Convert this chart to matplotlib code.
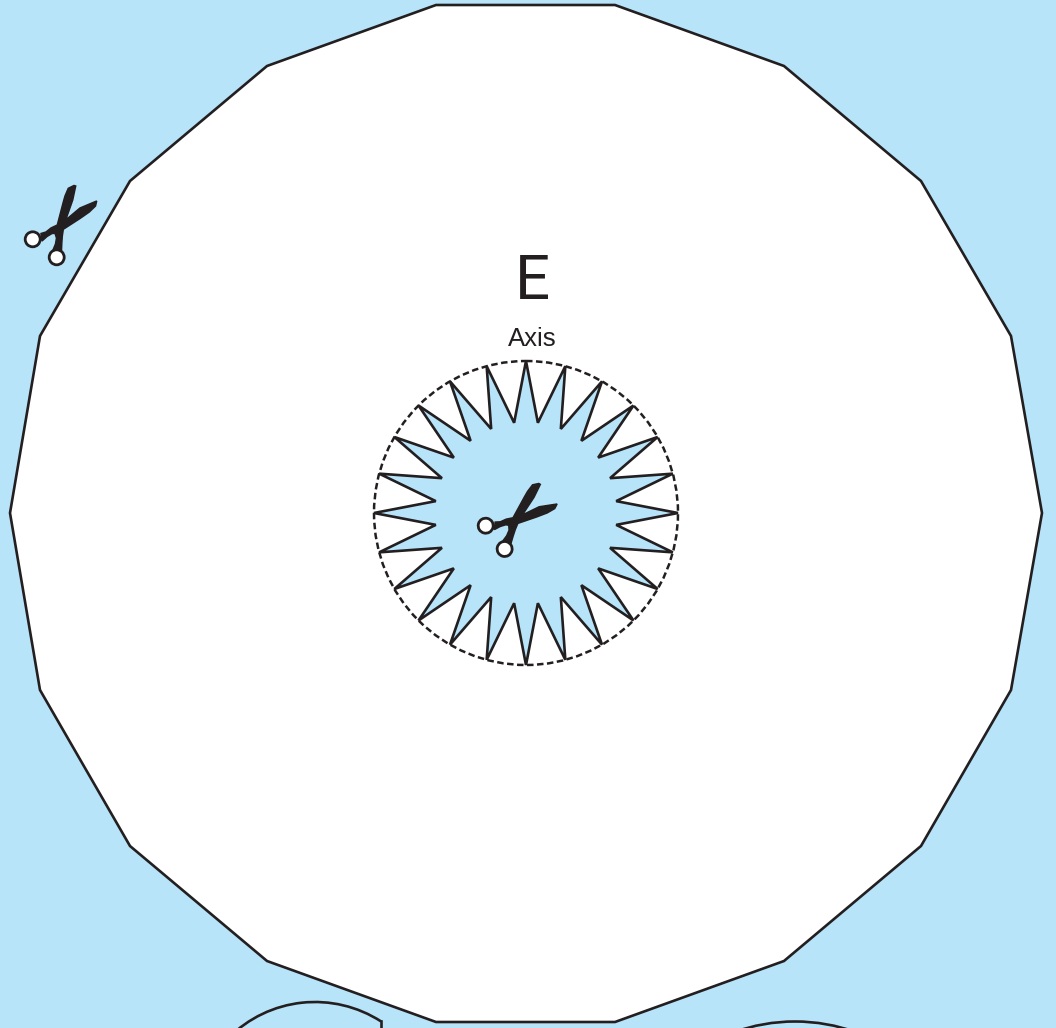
import numpy as np
import matplotlib
matplotlib.use("Agg")
import matplotlib.pyplot as plt
from matplotlib.patches import Polygon, Circle, Arc
from matplotlib.transforms import Affine2D

### VALUES (pixels) ###

blue = "#B8E4FA"
ink = "#231F20"

outer_x = [436, 615, 784, 921, 1011, 1042, 1011, 921, 784, 615, 436, 267, 130, 40, 10, 40, 130, 267]
outer_y = [5, 5, 66, 181, 336, 513, 690, 846, 961, 1022, 1022, 961, 846, 690, 513, 336, 181, 66]

center = (526, 513)
n_spikes = 24
tip_radius = 152
notch_radius = 91

# scissors outline, as seen in the top left one
scissors_x = [74.0, 68.3, 65.0, 63.3, 57.3, 51.0, 46.0, 41.0, 42.0, 47.0, 52.0, 55.0, 56.5, 55.5, 53.0, 61.5, 61.8, 62.3, 63.3, 80.0, 89.3, 95.5, 96.7, 80.0, 65.7, 72.7, 75.7]
scissors_y = [185.5, 188.3, 196.0, 202.0, 225.0, 228.0, 232.0, 233.5, 241.0, 236.5, 233.5, 233.3, 238.0, 244.0, 250.0, 250.0, 243.0, 236.0, 229.3, 218.5, 212.0, 206.0, 201.0, 208.0, 220.0, 200.0, 186.0]
ring_a = (32.7, 239.3)
ring_b = (56.7, 257.3)
second_scissors_turn = 14
second_scissors_ring = (485.7, 525.7)

left_arc_center = (315, 1124)
left_arc_radius = 122
left_arc_angles = (225, 302.8)
left_edge_x = [381, 381]
left_edge_y = [1021, 1030]
right_arc_center = (795, 1201.5)
right_arc_radius = 180

#### FIGURE ####

fig = plt.figure(figsize=(10.56, 10.28), dpi=100, facecolor=blue)
ax = fig.add_axes([0, 0, 1, 1])
ax.set_xlim(0, 1056)
ax.set_ylim(1028, 0)
ax.axis("off")

ax.add_patch(Polygon(np.column_stack([outer_x, outer_y]), closed=True, facecolor="white",
                     edgecolor=ink, linewidth=1.9, joinstyle="miter"))

# cut off shapes along the bottom
ax.add_patch(Arc(left_arc_center, 2 * left_arc_radius, 2 * left_arc_radius,
                 theta1=left_arc_angles[0], theta2=left_arc_angles[1], color=ink, linewidth=1.9))
ax.plot(left_edge_x, left_edge_y, color=ink, linewidth=1.9)
ax.add_patch(Arc(right_arc_center, 2 * right_arc_radius, 2 * right_arc_radius,
                 theta1=250, theta2=290, color=ink, linewidth=1.9))

#### STAR ####

ax.add_patch(Circle(center, tip_radius, facecolor="white", edgecolor=ink, linewidth=1.8,
                    linestyle=(0, (2.6, 1.4)), zorder=2))

angles = np.deg2rad(np.arange(2 * n_spikes) * 360 / (2 * n_spikes))
radii = np.where(np.arange(2 * n_spikes) % 2 == 0, tip_radius, notch_radius)
star = np.column_stack([center[0] + radii * np.cos(angles), center[1] + radii * np.sin(angles)])
ax.add_patch(Polygon(star, closed=True, facecolor=blue, edgecolor=ink, linewidth=1.9,
                     joinstyle="miter", zorder=3))

#### SCISSORS ####

def tijeras(transform):
	ax.add_patch(Polygon(np.column_stack([scissors_x, scissors_y]), closed=True, facecolor=ink,
	                     edgecolor=ink, linewidth=1.1, transform=transform, zorder=4))
	for ring in (ring_a, ring_b):
		ax.add_patch(Circle(ring, 7.5, facecolor="white", edgecolor=ink, linewidth=2.0,
		                    transform=transform, zorder=5))

tijeras(ax.transData)

segunda = (Affine2D().translate(-ring_a[0], -ring_a[1]).rotate_deg(second_scissors_turn)
           .translate(*second_scissors_ring))
tijeras(segunda + ax.transData)

#### TEXT ####

ax.text(532.5, 299, "E", family="Roboto", fontsize=44.5, color=ink, ha="center", va="baseline", zorder=6)
ax.text(532, 346.5, "Axis", family="Liberation Sans", fontsize=18.5, color=ink, ha="center", va="baseline", zorder=6)

plt.savefig("out.png", dpi=100, facecolor=blue)
